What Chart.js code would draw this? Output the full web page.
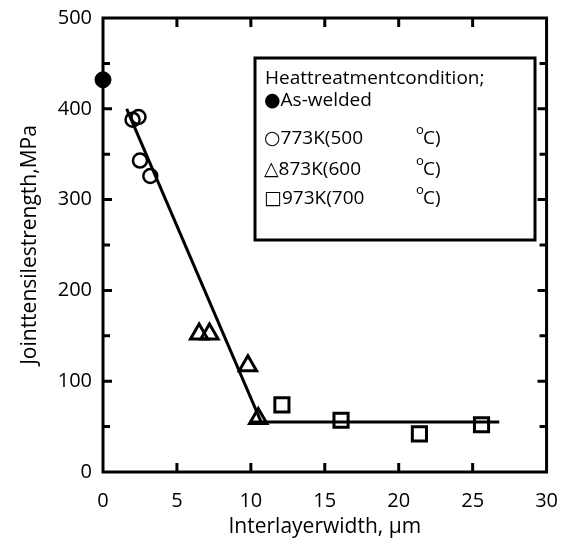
<!DOCTYPE html>
<html>
<head>
<meta charset="utf-8">
<script src="https://cdn.jsdelivr.net/npm/chart.js@4"></script>
<style>
  html, body { margin: 0; padding: 0; background: #fff; }
  #wrap { width: 567px; height: 546px; }
</style>
</head>
<body>
<div id="wrap"><canvas id="chart"></canvas></div>
<script>
// data
const asWeldedX = [0];
const asWeldedY = [432];
const k773X = [2.0, 2.4, 2.5, 3.2];
const k773Y = [388, 391, 343, 326];
const k873X = [6.5, 7.2, 9.8, 10.5];
const k873Y = [152, 152, 117, 59];
const k973X = [12.1, 16.1, 21.4, 25.6];
const k973Y = [74, 57, 42, 52];
const fitSlopeX = [1.6, 10.7];
const fitSlopeY = [400, 55];
const fitFlatX = [9.9, 26.8];
const fitFlatY = [55, 55];

const legendTitle = 'Heattreatmentcondition;';
const legendRows = ['●As-welded', '○773K(500', '△873K(600', '□973K(700'];

const FONT = '"Open Sans", "DejaVu Sans", sans-serif';
const pts = (xs, ys) => xs.map((x, i) => ({ x, y: ys[i] }));

// frame + inward ticks, all four sides
const framePlugin = {
  id: 'frame',
  afterDraw(chart) {
    const { ctx, chartArea: a, scales: { x, y } } = chart;
    ctx.save();
    ctx.strokeStyle = '#000';
    ctx.lineWidth = 3;
    ctx.strokeRect(a.left, a.top, a.right - a.left, a.bottom - a.top);
    ctx.beginPath();
    x.ticks.forEach(t => {
      if (t.value <= x.min || t.value >= x.max) return;
      const px = x.getPixelForValue(t.value);
      ctx.moveTo(px, a.bottom); ctx.lineTo(px, a.bottom - 9);
      ctx.moveTo(px, a.top); ctx.lineTo(px, a.top + 9);
    });
    y.ticks.forEach(t => {
      if (t.value > y.min && t.value < y.max) {
        const py = y.getPixelForValue(t.value);
        ctx.moveTo(a.left, py); ctx.lineTo(a.left + 9, py);
        ctx.moveTo(a.right, py); ctx.lineTo(a.right - 9, py);
      }
      const m = t.value + 50;
      if (m < y.max) {
        const py = y.getPixelForValue(m);
        ctx.moveTo(a.left, py); ctx.lineTo(a.left + 7, py);
        ctx.moveTo(a.right, py); ctx.lineTo(a.right - 7, py);
      }
    });
    ctx.stroke();

    // legend box
    ctx.lineWidth = 3;
    ctx.fillStyle = '#fff';
    ctx.fillRect(255, 58, 280, 182);
    ctx.strokeRect(255, 58, 280, 182);
    ctx.fillStyle = '#000';
    ctx.textBaseline = 'middle';
    ctx.textAlign = 'left';
    ctx.font = '19px ' + FONT;
    ctx.fillText(legendTitle, 265, 79);
    const rowY = [101, 139, 170, 199];
    legendRows.forEach((s, i) => {
      ctx.font = '19px ' + FONT;
      ctx.fillText(s, 264, rowY[i]);
      if (i > 0) {
        ctx.font = '13px ' + FONT;
        ctx.fillText('o', 416, rowY[i] - 9);
        ctx.font = '19px ' + FONT;
        ctx.fillText('C)', 423, rowY[i]);
      }
    });
    ctx.restore();
  }
};

new Chart(document.getElementById('chart'), {
  type: 'scatter',
  data: {
    datasets: [
      { data: pts(fitSlopeX, fitSlopeY), showLine: true, borderColor: '#000', borderWidth: 3, pointRadius: 0, clip: false },
      { data: pts(fitFlatX, fitFlatY), showLine: true, borderColor: '#000', borderWidth: 3, pointRadius: 0, clip: false },
      { data: pts(asWeldedX, asWeldedY), pointStyle: 'circle', pointRadius: 8, backgroundColor: '#000', borderColor: '#000', borderWidth: 1, clip: false },
      { data: pts(k773X, k773Y), pointStyle: 'circle', pointRadius: 7, backgroundColor: 'rgba(0,0,0,0)', borderColor: '#000', borderWidth: 2.5, clip: false },
      { data: pts(k873X, k873Y), pointStyle: 'triangle', pointRadius: 10, backgroundColor: 'rgba(0,0,0,0)', borderColor: '#000', borderWidth: 3, clip: false },
      { data: pts(k973X, k973Y), pointStyle: 'rect', pointRadius: 10, backgroundColor: 'rgba(0,0,0,0)', borderColor: '#000', borderWidth: 3, clip: false }
    ]
  },
  options: {
    responsive: true,
    maintainAspectRatio: false,
    animation: false,
    layout: { padding: { top: 18, right: 12, left: 0, bottom: 0 } },
    plugins: { legend: { display: false }, tooltip: { enabled: false } },
    scales: {
      x: {
        type: 'linear', min: 0, max: 30,
        grid: { display: false }, border: { display: false },
        ticks: { stepSize: 5, color: '#000', padding: 9, font: { family: FONT, size: 20 } },
        title: { display: true, text: 'Interlayerwidth, μm', color: '#000', padding: { top: 4, bottom: 6 }, font: { family: FONT, size: 21 } },
        afterFit: s => { s.height = 74; }
      },
      y: {
        type: 'linear', min: 0, max: 500,
        grid: { display: false }, border: { display: false },
        ticks: { stepSize: 100, color: '#000', padding: 3, font: { family: FONT, size: 20 } },
        title: { display: true, text: 'Jointtensilestrength,MPa', color: '#000', padding: { top: 17, bottom: 4 }, font: { family: FONT, size: 21 } },
        afterFit: s => { s.width = 103; }
      }
    }
  },
  plugins: [framePlugin]
});
</script>
</body>
</html>
